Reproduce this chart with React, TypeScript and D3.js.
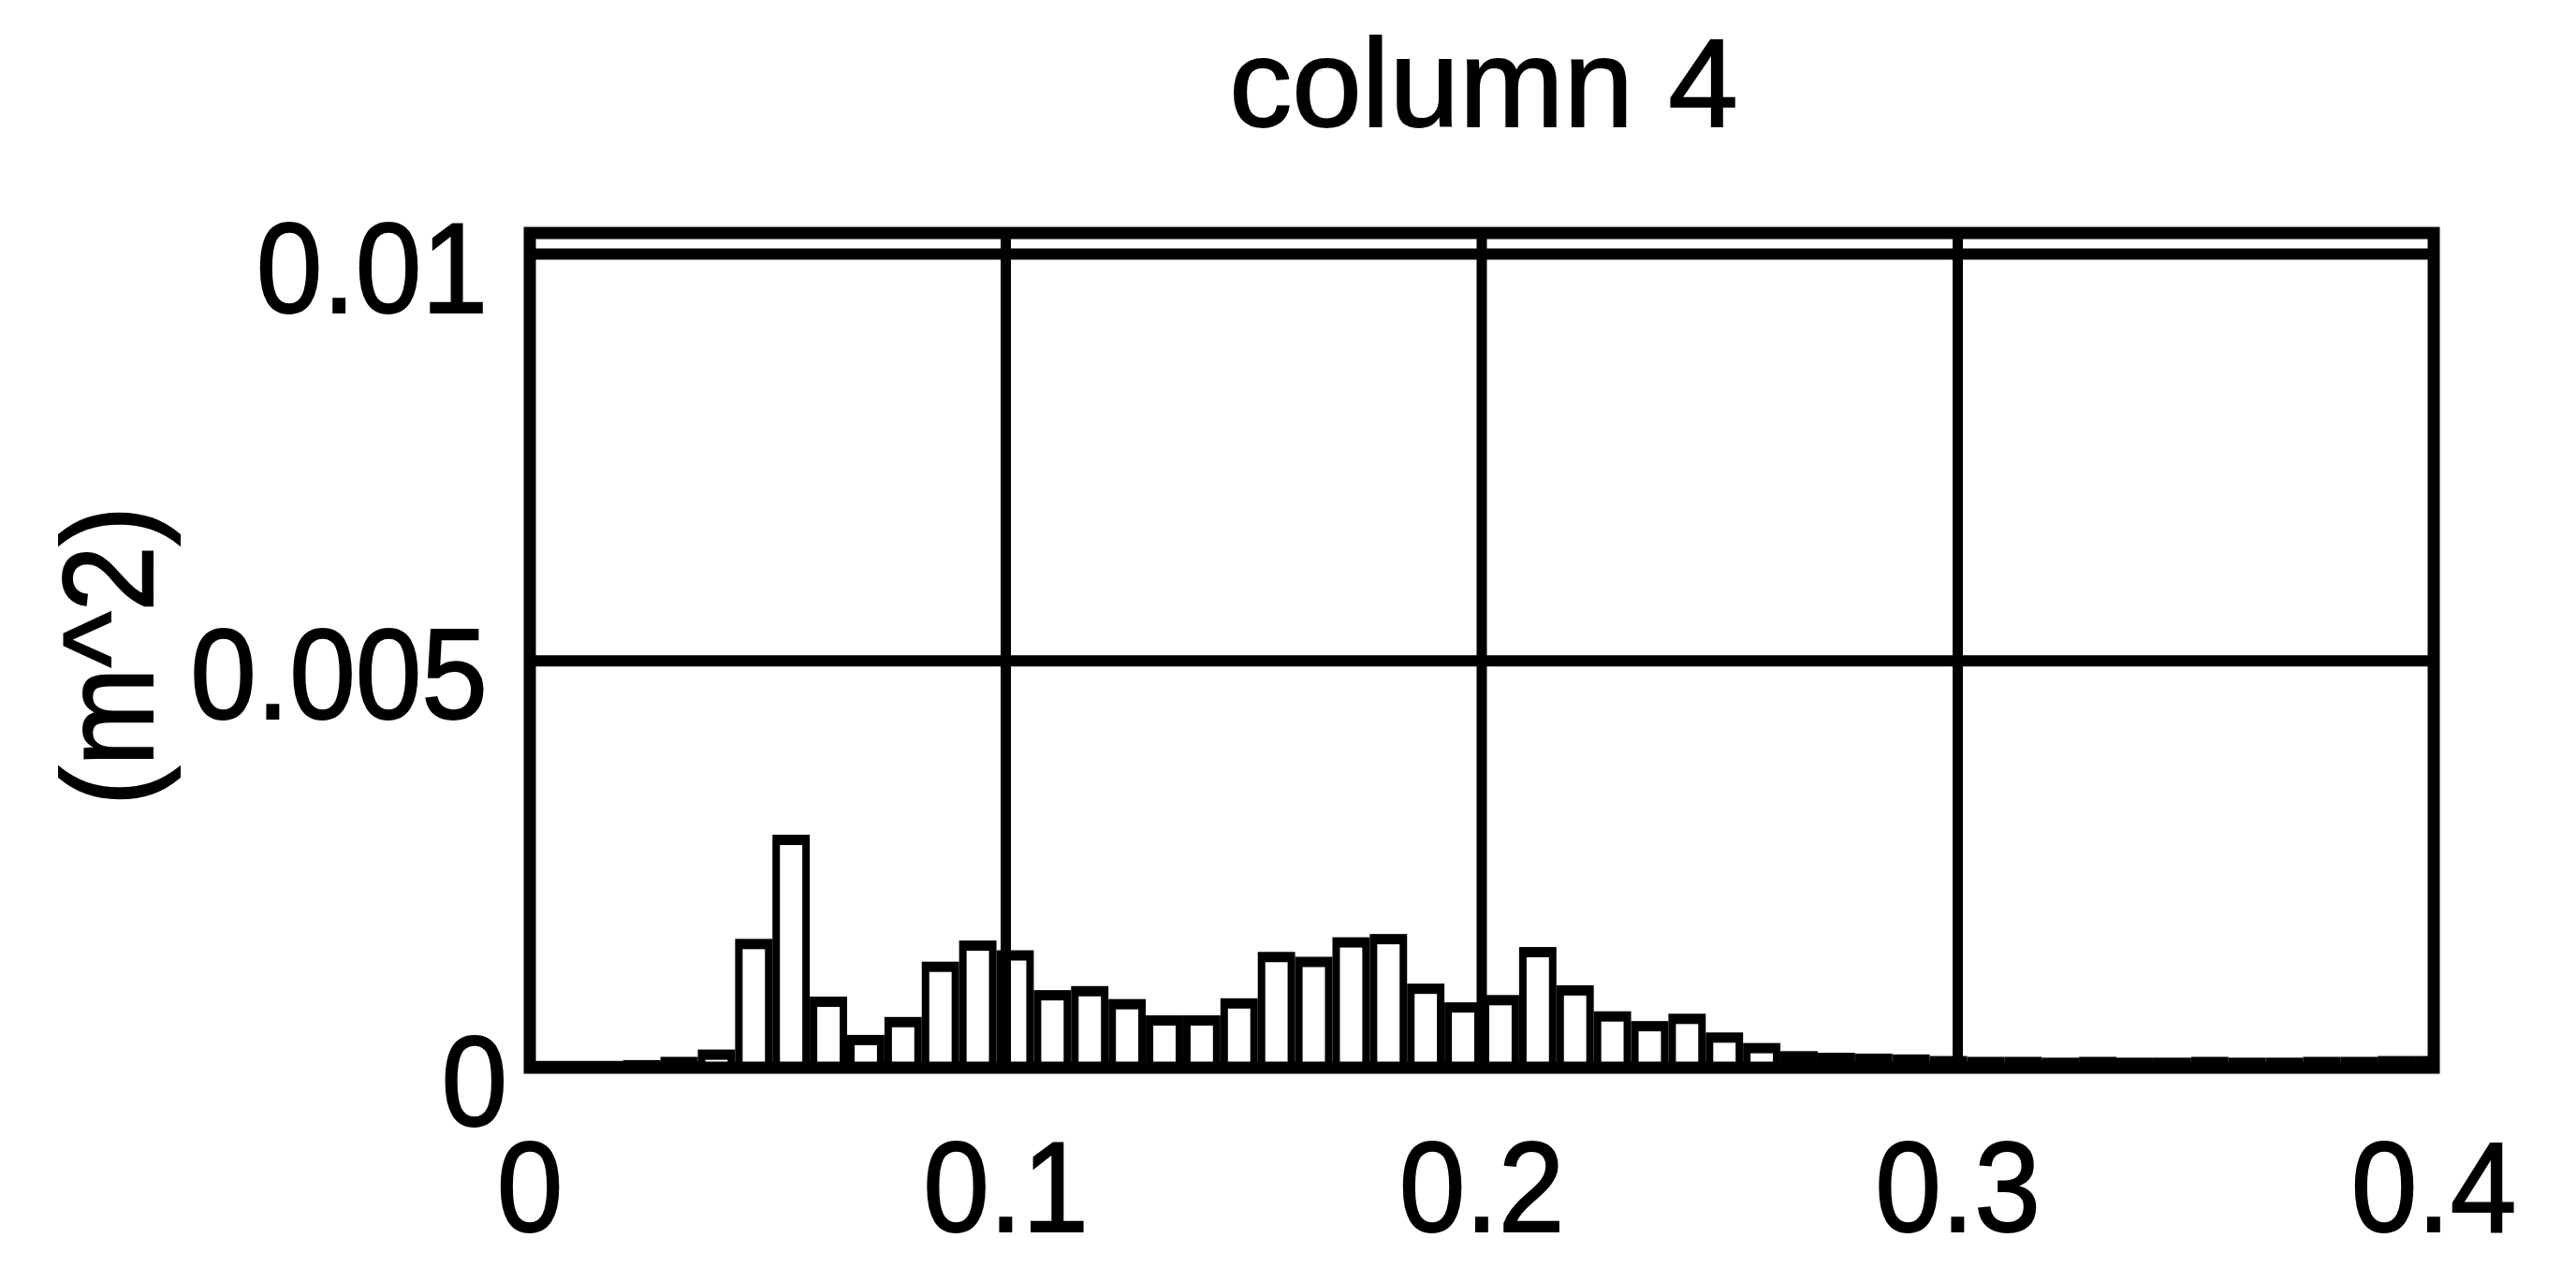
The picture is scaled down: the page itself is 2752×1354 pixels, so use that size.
import React from "react";
import * as d3 from "d3";

const title = "column 4";
const yLabel = "(m^2)";
const xTicks = [0, 0.1, 0.2, 0.3, 0.4];
const xTickLabels = ["0", "0.1", "0.2", "0.3", "0.4"];
const yTicks = [0, 0.005, 0.01];
const yTickLabels = ["0", "0.005", "0.01"];
const xMax = 0.4;
const yMax = 0.01026;
const binSpacing = 0.4 / 51;
// histogram heights for bins centred at k * 0.4/51, k = 0..51
const binValues = [
  0.00002, 0.00002, 0.00002, 0.00003, 0.00007, 0.00016, 0.00152, 0.0028,
  0.00081, 0.00034, 0.00056, 0.00124, 0.0015, 0.00138, 0.00089, 0.00094,
  0.00078, 0.00058, 0.00058, 0.00079, 0.00136, 0.0013, 0.00154, 0.00158,
  0.00097, 0.00074, 0.00083, 0.00142, 0.00095, 0.00063, 0.00051, 0.0006,
  0.00037, 0.00024, 0.00014, 0.00012, 0.00011, 0.0001, 0.00008, 0.00007,
  0.00007, 0.00006, 0.00007, 0.00006, 0.00006, 0.00007, 0.00006, 0.00006,
  0.00007, 0.00007, 0.00008, 0.00008,
];

const FONT = "'Liberation Sans', Arial, Helvetica, sans-serif";

export default function App() {
  const W = 2752, H = 1354;
  const x = d3.scaleLinear().domain([0, xMax]).range([566, 2600]);
  const y = d3.scaleLinear().domain([0, yMax]).range([1141, 249]);
  const [x0, x1] = x.range();
  const [yb, yt] = y.range();
  const sy = 1.08;
  const fs = 127;
  const textStroke = 1.8;
  const sideInset = 8;
  const topHalf = 5.5;
  const bars = binValues.map((v, k) => {
    const c = k * binSpacing;
    const xl = x(c - binSpacing / 2);
    const xr = x(c + binSpacing / 2);
    const yv = y(v);
    return { k, xl, xr, yv };
  });
  return (
    <svg width={W} height={H} style={{ position: "absolute", left: 0, top: 0, background: "#fff" }}>
      <defs>
        <clipPath id="plotclip">
          <rect x={x0} y={yt} width={x1 - x0} height={yb - yt} />
        </clipPath>
      </defs>
      <rect x={0} y={0} width={W} height={H} fill="#fff" />
      {/* bars */}
      <g clipPath="url(#plotclip)">
        {bars.map((b) => (
          <rect key={"o" + b.k} x={b.xl} y={b.yv - topHalf} width={b.xr - b.xl} height={yb - b.yv + topHalf} fill="#000" />
        ))}
        {bars.map((b) => {
          const top = b.yv + topHalf;
          const bot = yb - 6;
          if (bot - top <= 1) return null;
          return (
            <rect key={"i" + b.k} x={b.xl + sideInset} y={top} width={b.xr - b.xl - 2 * sideInset} height={bot - top} fill="#fff" />
          );
        })}
      </g>
      {/* grid */}
      {xTicks.slice(1, -1).map((t) => (
        <line key={"gx" + t} x1={x(t)} x2={x(t)} y1={yt} y2={yb} stroke="#000" strokeWidth={11} />
      ))}
      {yTicks.slice(1).map((t) => (
        <line key={"gy" + t} x1={x0} x2={x1} y1={y(t)} y2={y(t)} stroke="#000" strokeWidth={12} />
      ))}
      {/* frame */}
      <rect x={x0} y={yt} width={x1 - x0} height={yb - yt} fill="none" stroke="#000" strokeWidth={13} />
      {/* y tick labels */}
      {yTicks.map((t, i) => (
        <text key={"yl" + t} transform={`translate(${i === 0 ? 542 : 521},${y(t) + 62}) scale(1,${sy})`} textAnchor="end" fontFamily={FONT} fontSize={fs} fill="#000" stroke="#000" strokeWidth={textStroke}>
          {yTickLabels[i]}
        </text>
      ))}
      {/* x tick labels */}
      {xTicks.map((t, i) => (
        <text key={"xl" + t} transform={`translate(${x(t)},1316) scale(1,${sy})`} textAnchor="middle" fontFamily={FONT} fontSize={fs} fill="#000" stroke="#000" strokeWidth={textStroke}>
          {xTickLabels[i]}
        </text>
      ))}
      {/* y label */}
      <text transform={`translate(163,701) rotate(-90) scale(1,${sy})`} textAnchor="middle" fontFamily={FONT} fontSize={fs} fill="#000" stroke="#000" strokeWidth={textStroke}>
        {yLabel}
      </text>
      {/* title */}
      <text transform={`translate(1585,135) scale(1,1.0)`} textAnchor="middle" fontFamily={FONT} fontSize={134} fill="#000" stroke="#000" strokeWidth={textStroke}>
        {title}
      </text>
    </svg>
  );
}
